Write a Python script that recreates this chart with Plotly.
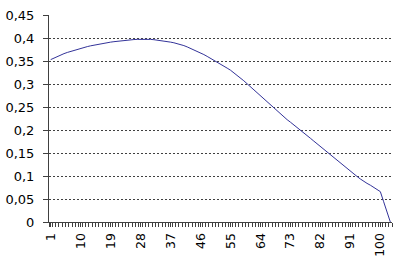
import plotly.graph_objects as go

categories = list(range(1, 104))
values = [
    0.353, 0.3567, 0.360, 0.363, 0.366, 0.3686, 0.371, 0.3733, 0.3755, 0.3776,
    0.3795, 0.3813, 0.383, 0.3846, 0.386, 0.3875, 0.3888, 0.390, 0.391, 0.392,
    0.393, 0.3938, 0.3946, 0.3953, 0.396, 0.3966, 0.397, 0.3973, 0.3975, 0.3975,
    0.397, 0.3963, 0.3955, 0.3946, 0.3935, 0.3923, 0.391, 0.3896, 0.388, 0.386,
    0.3835, 0.3806, 0.3775, 0.3743, 0.371, 0.3675, 0.364, 0.360, 0.356, 0.352,
    0.348, 0.3435, 0.339, 0.3345, 0.330, 0.3246, 0.319, 0.313, 0.307, 0.3005,
    0.294, 0.2875, 0.281, 0.274, 0.267, 0.260, 0.253, 0.2465, 0.240, 0.234,
    0.228, 0.2225, 0.217, 0.2115, 0.206, 0.200, 0.194, 0.188, 0.182, 0.176,
    0.170, 0.1635, 0.157, 0.151, 0.145, 0.139, 0.133, 0.1275, 0.122, 0.116,
    0.110, 0.1045, 0.099, 0.0935, 0.088, 0.084, 0.080, 0.0755, 0.071, 0.066,
    0.044, 0.022, 0.0,
]
x_tick_vals = [1, 10, 19, 28, 37, 46, 55, 64, 73, 82, 91, 100]
x_tick_text = [str(v) for v in x_tick_vals]
y_tick_vals = [0, 0.05, 0.1, 0.15, 0.2, 0.25, 0.3, 0.35, 0.4, 0.45]
y_tick_text = ["0", "0,05", "0,1", "0,15", "0,2", "0,25", "0,3", "0,35", "0,4", "0,45"]

fig = go.Figure(
    go.Scatter(
        x=categories,
        y=values,
        mode="lines",
        line=dict(color="#333399", width=1),
        hoverinfo="skip",
    )
)

fig.update_layout(
    width=394,
    height=257,
    margin=dict(l=49, r=2, t=15, b=35),
    paper_bgcolor="white",
    plot_bgcolor="white",
    showlegend=False,
    font=dict(family="DejaVu Sans, Arial, sans-serif", size=13, color="#000000"),
)

fig.update_xaxes(
    automargin=False,
    range=[0.5, 103.5],
    tickmode="array",
    tickvals=x_tick_vals,
    ticktext=x_tick_text,
    tickangle=-90,
    ticks="outside",
    ticklen=4,
    tickwidth=1,
    tickcolor="#404040",
    minor=dict(tickmode="linear", tick0=0.5, dtick=1, ticks="outside", ticklen=4, tickcolor="#404040", tickwidth=1),
    showline=True,
    linecolor="#404040",
    linewidth=1,
    showgrid=False,
    zeroline=False,
    ticklabelstandoff=1,
    tickfont=dict(size=12.5),
)

fig.update_yaxes(
    automargin=False,
    range=[0, 0.45],
    tickmode="array",
    tickvals=y_tick_vals,
    ticktext=y_tick_text,
    ticks="outside",
    ticklen=5,
    tickwidth=1,
    tickcolor="#404040",
    showline=True,
    linecolor="#404040",
    linewidth=1,
    showgrid=True,
    gridcolor="#404040",
    gridwidth=1,
    griddash="2px,2px",
    zeroline=False,
    ticklabelstandoff=6,
)

fig.write_html(
    "out.html",
    config={"displayModeBar": False},
    post_script="document.body.style.margin='0';document.body.style.overflow='hidden';",
)
